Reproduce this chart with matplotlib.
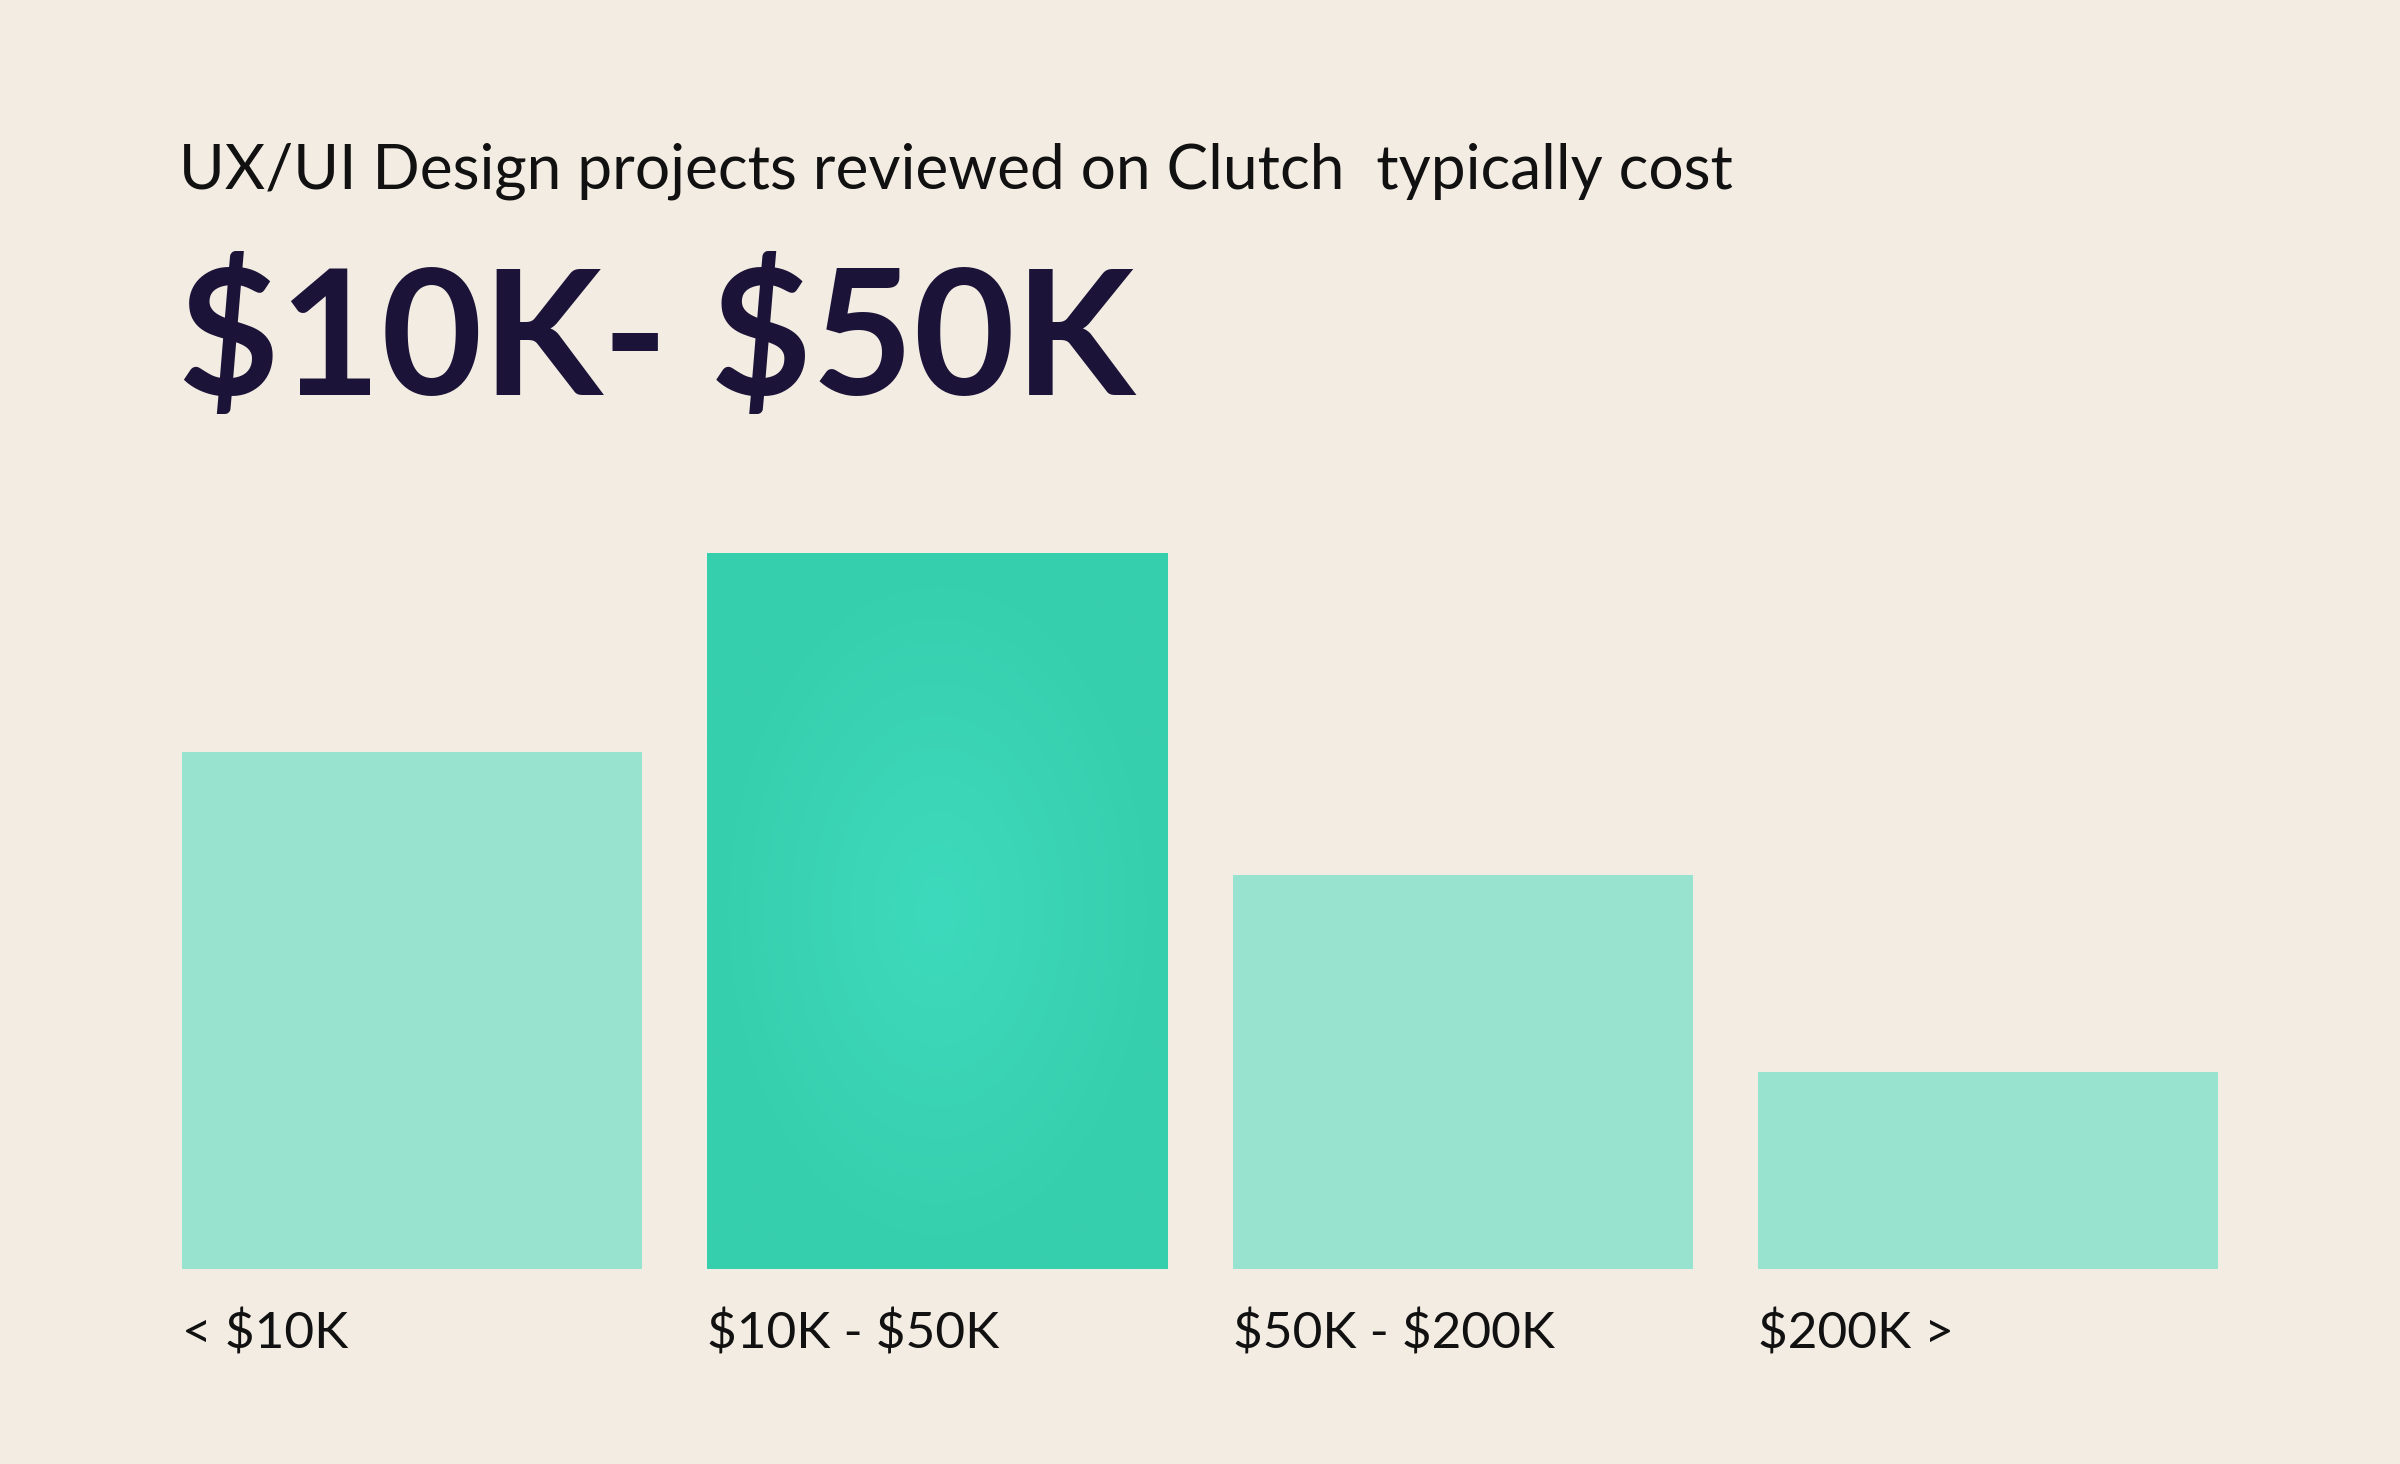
import matplotlib
matplotlib.use("Agg")
import matplotlib.pyplot as plt
import numpy as np
from matplotlib.transforms import blended_transform_factory
from matplotlib.colors import LinearSegmentedColormap

# Data
categories = ["< $10K", "$10K - $50K", "$50K - $200K", "$200K >"]
shares = [26.2, 36.3, 20.0, 10.0]
highlight = 1
title = "UX/UI Design projects reviewed on Clutch  typically cost"
headline = "$10K- $50K"

BG = "#F3ECE3"
LIGHT = "#98E3CF"
DARK = "#36CFAD"
NAVY = "#1B1438"
FONT = ["Lato", "DejaVu Sans"]

plt.rcParams["font.family"] = FONT
plt.rcParams["text.parse_math"] = False

fig = plt.figure(figsize=(24, 14.64), dpi=100)
fig.patch.set_facecolor(BG)

ax = fig.add_axes([0.0758, 0.1332, 0.8484, 0.489])
ax.set_facecolor(BG)

w = 0.876
x = np.arange(len(categories))
colors = [DARK if i == highlight else LIGHT for i in range(len(categories))]
bars = ax.bar(x, shares, width=w, color=colors, linewidth=0)

# subtle radial glow on the highlighted bar
hb = bars[highlight]
gx, gy = np.meshgrid(np.linspace(-1, 1, 200), np.linspace(-1, 1, 300))
r = np.sqrt(gx**2 + gy**2)
glow = np.clip(1 - r, 0, 1)
cmap = LinearSegmentedColormap.from_list("g", [DARK, "#3EDABD"])
im = ax.imshow(glow, cmap=cmap, extent=[hb.get_x(), hb.get_x() + hb.get_width(), 0, hb.get_height()],
               aspect="auto", zorder=2, interpolation="bilinear")
im.set_clip_path(hb)

ax.set_xlim(-w / 2, len(categories) - 1 + w / 2)
ax.set_ylim(0, max(shares))
ax.axis("off")

trans = blended_transform_factory(ax.transData, fig.transFigure)
for xi, lab in zip(x, categories):
    ax.text(xi - w / 2, 0.0786, lab, transform=trans, ha="left", va="baseline",
            fontsize=37, color="#111111", family=FONT, parse_math=False)

fig.text(0.0746, 0.871, title, ha="left", va="baseline", fontsize=44.8, color="#111111",
         family=FONT, parse_math=False)
fig.text(0.0742, 0.730, headline, ha="left", va="baseline", fontsize=126, color=NAVY,
         fontweight="bold", family=FONT, parse_math=False)

fig.savefig("out.png", dpi=100, facecolor=BG)
